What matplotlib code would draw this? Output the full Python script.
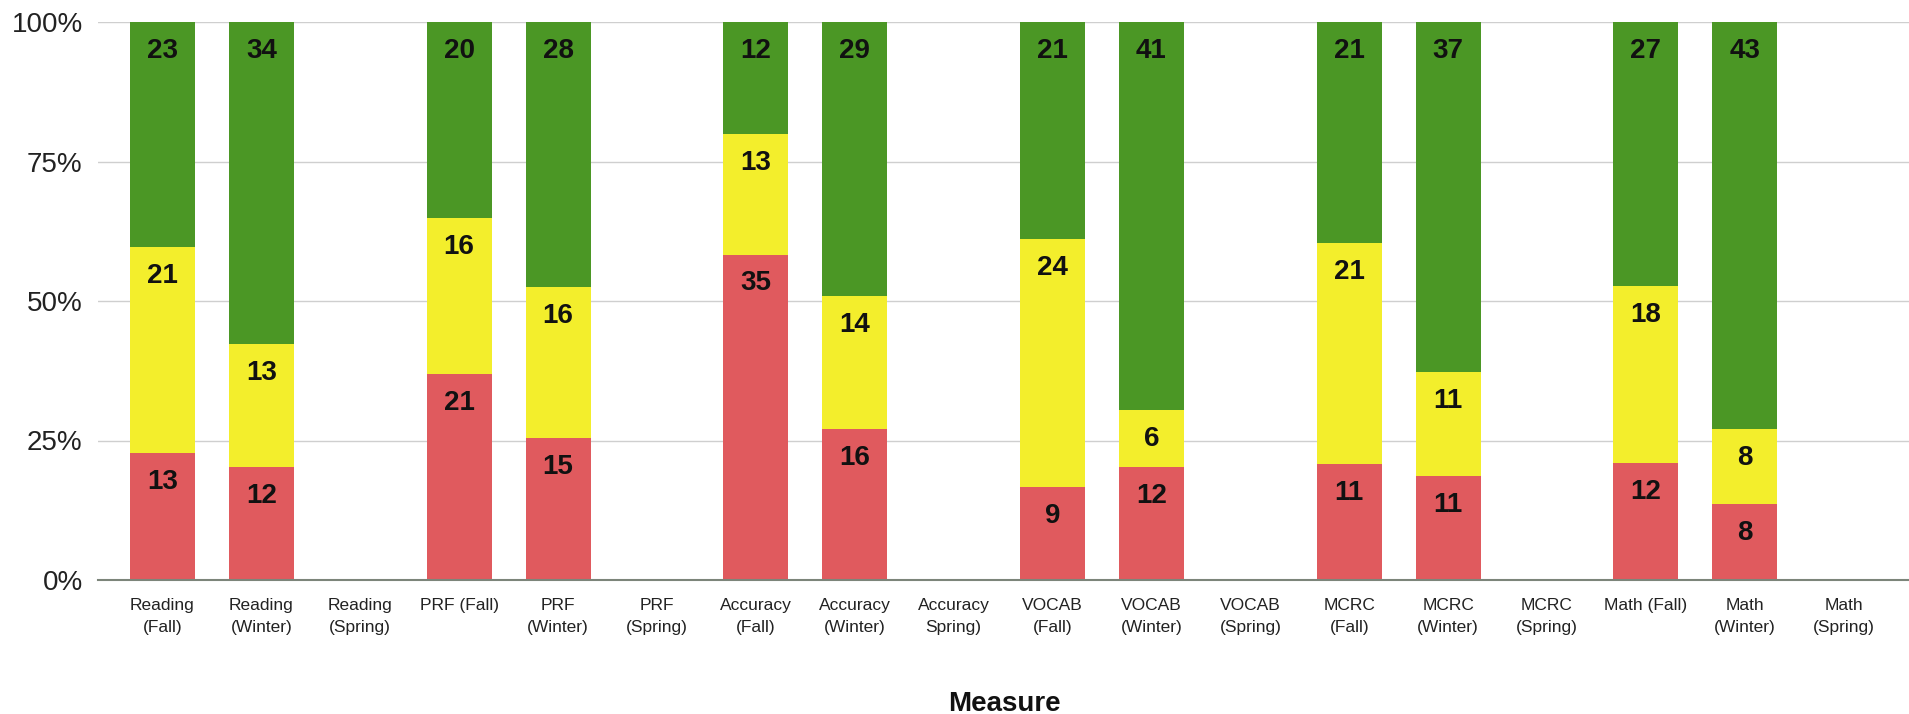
import matplotlib
matplotlib.use('Agg')
import matplotlib.pyplot as plt
import numpy as np

### Category labels (one per column) ###
measures = ['Reading\n(Fall)', 'Reading\n(Winter)', 'Reading\n(Spring)',
            'PRF (Fall)', 'PRF\n(Winter)', 'PRF\n(Spring)',
            'Accuracy\n(Fall)', 'Accuracy\n(Winter)', 'Accuracy\nSpring)',
            'VOCAB\n(Fall)', 'VOCAB\n(Winter)', 'VOCAB\n(Spring)',
            'MCRC\n(Fall)', 'MCRC\n(Winter)', 'MCRC\n(Spring)',
            'Math (Fall)', 'Math\n(Winter)', 'Math\n(Spring)']

### Student counts per band, spring not tested yet ###
red_counts = [13, 12, 0, 21, 15, 0, 35, 16, 0, 9, 12, 0, 11, 11, 0, 12, 8, 0]
yellow_counts = [21, 13, 0, 16, 16, 0, 13, 14, 0, 24, 6, 0, 21, 11, 0, 18, 8, 0]
green_counts = [23, 34, 0, 20, 28, 0, 12, 29, 0, 21, 41, 0, 21, 37, 0, 27, 43, 0]

y_ticks = [0, 25, 50, 75, 100]
y_labels = ['0%', '25%', '50%', '75%', '100%']

RED = '#e05a5e'
YELLOW = '#f3ee2c'
GREEN = '#4b9725'

plt.rcParams['font.family'] = ['Liberation Sans', 'DejaVu Sans']

fig = plt.figure(figsize=(19.09, 7.14), dpi=100)
ax = fig.add_axes([98 / 1909, 1 - 580 / 714, 1 - 98 / 1909, 558 / 714])

x = np.arange(len(measures))
counts = np.array([red_counts, yellow_counts, green_counts], dtype=float)
totals = counts.sum(axis=0)
totals[totals == 0] = 1  # empty columns stay empty
pct = counts / totals * 100

### Draw stacked percentages with the count near the top of each piece ###
bottom = np.zeros(len(measures))
for i, color in enumerate([RED, YELLOW, GREEN]):
    ax.bar(x, pct[i], 0.657, bottom=bottom, color=color, zorder=2)
    for j in range(len(measures)):
        if counts[i][j] > 0:
            top = bottom[j] + pct[i][j]
            ax.annotate(str(int(counts[i][j])), (x[j], top), xytext=(0, -29),
                        textcoords='offset pixels', ha='center', va='center',
                        fontsize=20, fontweight='bold', color='#111111', zorder=3)
    bottom = bottom + pct[i]

ax.set_xlim(-0.652, 17.66)
ax.set_ylim(0, 100)
ax.set_yticks(y_ticks)
ax.set_yticklabels(y_labels, fontsize=20, color='#222222')
ax.set_xticks(x)
ax.set_xticklabels(measures, fontsize=12.5, color='#222222', linespacing=1.55)
ax.tick_params(axis='both', length=0)
ax.tick_params(axis='y', pad=11)
ax.tick_params(axis='x', pad=13)

ax.grid(axis='y', color='#cfcfcf', linewidth=1, zorder=0)
for side in ['top', 'right', 'left']:
    ax.spines[side].set_visible(False)
ax.spines['bottom'].set_color('#7c857a')
ax.spines['bottom'].set_linewidth(1.5)
ax.spines['bottom'].set_zorder(4)

fig.text(1004 / 1909, 10 / 714, 'Measure', ha='center', va='center',
         fontsize=20, fontweight='bold', color='#111111')

fig.savefig('out.png', dpi=100)
